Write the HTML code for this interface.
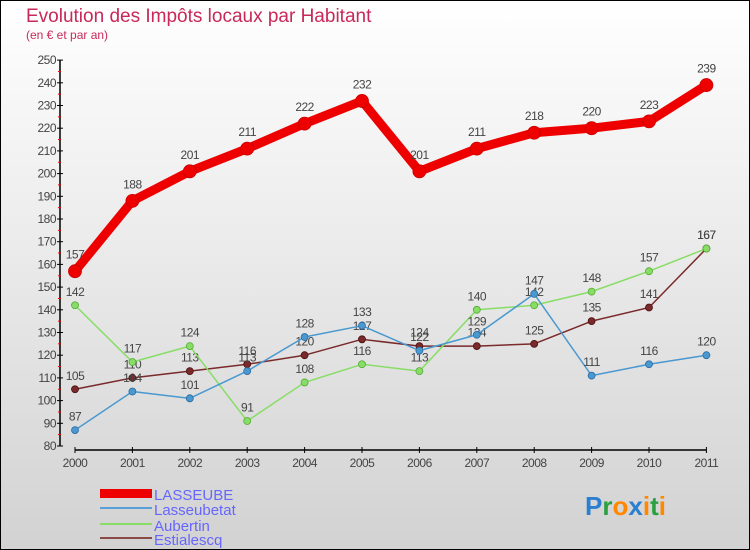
<!DOCTYPE html>
<html><head><meta charset="utf-8"><style>
body{margin:0}
#c{width:750px;height:550px;position:relative;overflow:hidden;font-family:"Liberation Sans",sans-serif}
</style></head><body>
<div id="c">
<svg id="s" width="750" height="550" xmlns="http://www.w3.org/2000/svg">
<defs><linearGradient id="bg" x1="0" y1="0" x2="0" y2="1"><stop offset="0" stop-color="#ffffff"/><stop offset="1" stop-color="#d2d2d2"/></linearGradient></defs>
<rect x="0.5" y="0.5" width="749" height="549" fill="url(#bg)" stroke="#000"/>
<text x="26" y="22" font-size="19" fill="#c8285a">Evolution des Impôts locaux par Habitant</text>
<text x="26" y="39" font-size="12" fill="#c8285a">(en € et par an)</text>
<g id="axes"></g><g id="series"></g>
<g>
<rect x="100" y="489" width="52" height="9" fill="#ee0000"/>
<text x="154" y="500" font-size="15" fill="#6666ff">LASSEUBE</text>
<line x1="100" y1="508" x2="152" y2="508" stroke="#5aa0d8" stroke-width="2"/>
<text x="154" y="515" font-size="15" fill="#6666ff">Lasseubetat</text>
<line x1="100" y1="524" x2="152" y2="524" stroke="#88dd66" stroke-width="2"/>
<text x="154" y="531" font-size="15" fill="#6666ff">Aubertin</text>
<line x1="100" y1="538" x2="152" y2="538" stroke="#8a4a4a" stroke-width="2"/>
<text x="154" y="545" font-size="15" fill="#6666ff">Estialescq</text>
</g>
<text x="585" y="515" font-size="26" font-weight="bold"><tspan fill="#2a7fd0">P</tspan><tspan fill="#2aa040">r</tspan><tspan fill="#ff8800">o</tspan><tspan fill="#2a7fd0">x</tspan><tspan fill="#ff8800">i</tspan><tspan fill="#2aa040">t</tspan><tspan fill="#ff8800">i</tspan></text>
</svg></div>
<script>
const years=[2000,2001,2002,2003,2004,2005,2006,2007,2008,2009,2010,2011];
const yTicks=[80,90,100,110,120,130,140,150,160,170,180,190,200,210,220,230,240,250];
const lasseube=[157,188,201,211,222,232,201,211,218,220,223,239];
const lasseubetat=[87,104,101,113,128,133,122,129,147,111,116,120];
const aubertin=[142,117,124,91,108,116,113,140,142,148,157,167];
const estialescq=[105,110,113,116,120,127,124,124,125,135,141,167];
const NS="http://www.w3.org/2000/svg";
function X(i){return 75+i*57.4;}
function Y(v){return 446-(v-80)*2.27;}
function mk(t,a,p){const e=document.createElementNS(NS,t);for(const k in a)e.setAttribute(k,a[k]);p.appendChild(e);return e;}
const ax=document.getElementById('axes');
let l=mk('line',{x1:60,y1:60,x2:60,y2:446,stroke:'#000','stroke-width':1.5},ax);


l=mk('line',{x1:75,y1:450,x2:706,y2:450,stroke:'#000','stroke-width':1.5},ax);


yTicks.forEach((v,i)=>{
 mk('line',{x1:57,y1:Y(v),x2:63,y2:Y(v),stroke:'#000'},ax);
 if(i<yTicks.length-1)mk('line',{x1:58,y1:Y(v+5),x2:61,y2:Y(v+5),stroke:'#e00'},ax);
 const t=mk('text',{x:56,y:Y(v)+4,'font-size':12,fill:'#444','text-anchor':'end','letter-spacing':'-0.5'},ax);
 t.textContent=v;
 
 
});
years.forEach((yr,i)=>{
 mk('line',{x1:X(i),y1:447,x2:X(i),y2:453,stroke:'#000'},ax);
 const t=mk('text',{x:X(i),y:467,'font-size':12,fill:'#444','text-anchor':'middle','letter-spacing':'-0.5'},ax);
 t.textContent=yr;
 
 
});
const sg=document.getElementById('series');
function draw(name,data,color,w,r,stroke){
 const g=mk('g',{},sg);
 
 
 const p=mk('polyline',{points:data.map((v,i)=>X(i)+','+Y(v)).join(' '),fill:'none',stroke:color,'stroke-width':w,'stroke-linejoin':'round'},g);
 
 
 data.forEach((v,i)=>{
  const c=mk('circle',{cx:X(i),cy:Y(v),r:r,fill:color,stroke:stroke,'stroke-width':0.8},g);
  
  
  const t=mk('text',{x:X(i),y:Y(v)-(r+6),'font-size':12,fill:'#444','text-anchor':'middle','letter-spacing':'-0.5'},g);
  t.textContent=v;
  
  
 });
}
draw('estialescq',estialescq,'#7a2a2a',1.5,3.5,'#4a1010');
draw('aubertin',aubertin,'#88dd66',1.5,3.5,'#55aa33');
draw('lasseubetat',lasseubetat,'#4a98d0',1.5,3.5,'#2a6aa0');
draw('lasseube',lasseube,'#ee0000',9,6.5,'#cc0000');
</script>
</body></html>
